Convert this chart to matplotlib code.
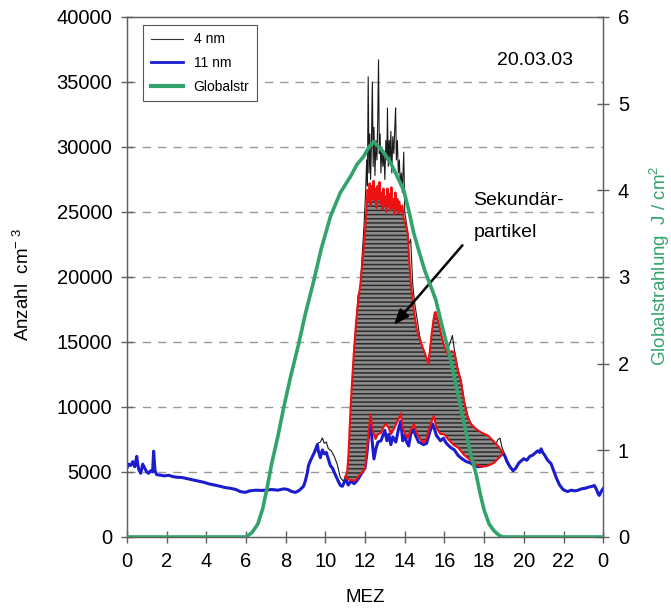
"""
Partikelanzahl 4 nm / 11 nm und Globalstrahlung, 20.03.03
"""
import numpy as np
import matplotlib
matplotlib.use("Agg")
import matplotlib.pyplot as plt
from matplotlib.lines import Line2D

plt.rcParams['font.family'] = ['Liberation Sans', 'DejaVu Sans']
plt.rcParams['hatch.linewidth'] = 1.1

# 11 nm (blau)
t11 = [0.0, 0.1, 0.2, 0.3, 0.4, 0.5, 0.55, 0.6, 0.7, 0.8, 0.9, 1.0, 1.1, 1.2, 1.3, 1.35, 1.42, 1.5,
       1.7, 1.9, 2.1, 2.3, 2.5, 2.8, 3.0, 3.3, 3.6, 3.9, 4.1, 4.4, 4.7, 4.95, 5.2, 5.5, 5.7, 5.96,
       6.2, 6.5, 6.8, 7.0, 7.3, 7.6, 7.9, 8.1, 8.3, 8.5, 8.7, 8.9, 9.0, 9.1, 9.15, 9.25, 9.35, 9.45,
       9.55, 9.6, 9.65, 9.75, 9.85, 9.95, 10.05, 10.15, 10.25, 10.36, 10.5, 10.65, 10.76, 10.86,
       10.95, 11.05, 11.15, 11.3, 11.45, 11.6, 11.75, 11.9, 12.0, 12.1, 12.2, 12.28, 12.35, 12.45,
       12.55, 12.65, 12.8, 12.9, 13.0, 13.1, 13.2, 13.3, 13.4, 13.55, 13.7, 13.8, 13.9, 14.0, 14.1,
       14.2, 14.3, 14.45, 14.55, 14.7, 14.8, 14.95, 15.1, 15.25, 15.4, 15.5, 15.6, 15.8, 15.95,
       16.1, 16.3, 16.5, 16.7, 16.9, 17.1, 17.3, 17.5, 17.7, 17.9, 18.1, 18.3, 18.5, 18.7, 18.85,
       18.95, 19.05, 19.15, 19.3, 19.46, 19.6, 19.75, 19.9, 20.0, 20.15, 20.3, 20.45, 20.6, 20.7,
       20.8, 20.87, 20.95, 21.05, 21.2, 21.37, 21.5, 21.65, 21.8, 21.95, 22.05, 22.2, 22.4, 22.55,
       22.7, 22.9, 23.1, 23.3, 23.45, 23.55, 23.65, 23.75, 23.8, 23.9, 24.0]
n11 = [5300, 5600, 5500, 5800, 5400, 6200, 5600, 5200, 4900, 5600, 5300, 5000, 4900, 5100, 5000, 6600, 5100, 4800,
       4750, 4700, 4750, 4650, 4600, 4570, 4500, 4400, 4300, 4200, 4100, 4000, 3900, 3800, 3750, 3650, 3500, 3430,
       3550, 3600, 3580, 3600, 3650, 3600, 3700, 3660, 3500, 3430, 3600, 3900, 4340, 5000, 5490, 5870, 6200, 6500,
       6900, 7100, 6600, 6100, 6700, 6400, 6500, 6000, 5500, 5300, 4800, 4300, 3960, 3900,
       4200, 4400, 4000, 4300, 4100, 4340, 4700, 5100, 5300, 6500, 8200, 9100, 7500, 6000,
       6800, 7300, 7400, 7800, 8200, 7400, 7900, 7100, 7700, 7300, 8400, 8900, 7400, 7800, 7300,
       7000, 7900, 8300, 7800, 7300, 7240, 7100, 7200, 8000, 8700, 8300, 7800, 7400, 7600,
       7200, 6900, 6700, 6250, 6000, 5800, 5700, 5500, 5400, 5450, 5600, 5700, 5900, 6100, 6300,
       6480, 6200, 5800, 5400, 5100, 5300, 5700, 5900, 6020, 5900, 6200, 6300, 6500, 6630,
       6500, 6780, 6500, 6300, 5900, 5640, 5100, 4500, 4000, 3700, 3580, 3500, 3600, 3550,
       3580, 3700, 3750, 3850, 3900, 3960, 3700, 3300, 3200, 3500, 3730]

# 4 nm (schwarz), nur wo sichtbar
t4 = [9.0, 9.2, 9.4, 9.6, 9.75, 9.85, 9.95, 10.05, 10.15, 10.3, 10.45, 10.6, 10.75, 10.9, 11.05,
      11.15, 11.25, 11.35, 11.45, 11.55, 11.65, 11.75, 11.85, 11.95, 12.03, 12.08, 12.12, 12.16,
      12.2, 12.24, 12.28, 12.32, 12.37, 12.41, 12.45, 12.5, 12.55, 12.6, 12.64, 12.68, 12.72,
      12.76, 12.8, 12.85, 12.9, 12.95, 13.0, 13.05, 13.1, 13.13, 13.17, 13.22, 13.26, 13.3,
      13.35, 13.4, 13.45, 13.5, 13.54, 13.58, 13.63, 13.68, 13.73, 13.78, 13.83, 13.88, 13.95,
      14.0, 14.1, 14.2, 14.3, 14.4, 14.5, 14.6, 14.75, 14.9, 15.05, 15.2, 15.35, 15.5, 15.6,
      15.75, 15.9, 16.05, 16.2, 16.3, 16.4, 16.5, 16.7, 16.85, 17.0, 17.2, 17.4, 17.6, 17.8,
      18.0, 18.2, 18.4, 18.6, 18.7, 18.8, 18.9, 19.0, 19.2, 19.4]
n4 = [4400, 5700, 6400, 7200, 7300, 7620, 7200, 7300, 6800, 6630, 6200, 5600, 4600, 4300, 4700,
      5200, 8500, 11500, 14500, 16500, 18600, 19000, 21500, 24000, 26500, 29000, 27000, 35400,
      28000, 31000, 27500, 30000, 35000, 28500, 31500, 27800, 30500, 29000, 32000, 36700, 29500,
      31000, 28000, 30000, 28500, 29500, 27500, 30500, 29000, 33000, 28500, 30500, 29000, 31200,
      28000, 30800, 29500, 31500, 33000, 29000, 30500, 28000, 29000, 27000, 28000, 26500, 29600,
      25000, 24000, 22500, 22900, 19500, 18000, 17000, 15500, 14500, 13800, 13600, 15500, 17300, 17000,
      16000, 15000, 14500, 14600, 15000, 15500, 14400, 12800, 12000, 10500, 9200, 8500, 8200, 8000,
      7900, 7800, 7400, 7200, 7500, 7600, 6900, 6500, 5800, 5200]

# Sekundärpartikel: obere und untere rote Linie
t_up = [11.0, 11.1, 11.17, 11.27, 11.35, 11.43, 11.55, 11.67, 11.77, 11.87, 11.95, 12.03, 12.08,
        12.13, 12.18, 12.23, 12.28, 12.33, 12.38, 12.43, 12.48, 12.53, 12.58, 12.63, 12.68, 12.73,
        12.78, 12.83, 12.88, 12.93, 12.98, 13.03, 13.08, 13.13, 13.18, 13.23, 13.28, 13.33, 13.38,
        13.43, 13.48, 13.53, 13.58, 13.63, 13.68, 13.73, 13.8, 13.88, 13.95, 14.05, 14.15, 14.22,
        14.3, 14.38, 14.45, 14.6, 14.8, 15.0, 15.2, 15.35, 15.46, 15.56, 15.7, 15.85, 16.0, 16.2,
        16.35, 16.5, 16.65, 16.83, 17.0, 17.15, 17.33, 17.6, 17.9, 18.2, 18.45, 18.7, 18.95]
upper = [4600, 5000, 6400, 9900, 12000, 14000, 16500, 18300, 19500, 21100, 22500, 24150, 25500,
         26700, 25800, 27200, 25500, 27000, 26000, 27400, 25800, 26800, 25300, 27000, 26000, 27300,
         25600, 26500, 25200, 26800, 25500, 26200, 25000, 26800, 25400, 26400, 25100, 26900, 25300,
         26000, 24800, 26500, 25200, 26000, 24900, 25800, 25000, 25500, 24500, 24000, 23400, 21500,
         19600, 18500, 17500, 16000, 15000, 14200, 13300, 15500, 16800, 17300, 16500, 15500, 14600, 14000,
         14300, 14200, 13000, 11960, 10300, 9300, 8700, 8300, 8000, 7800, 7400, 7000, 6480]
t_low = [11.0, 11.2, 11.5, 11.75, 12.0, 12.1, 12.2, 12.28, 12.38, 12.53, 12.65, 12.8, 12.95, 13.05,
         13.2, 13.3, 13.45, 13.6, 13.7, 13.8, 13.9, 14.0, 14.15, 14.3, 14.47, 14.6, 14.8, 14.97,
         15.1, 15.25, 15.38, 15.46, 15.6, 15.8, 16.0, 16.2, 16.45, 16.7, 17.0, 17.33, 17.6, 17.84,
         18.1, 18.3, 18.5, 18.75, 18.95]
lower = [4600, 4400, 4340, 4800, 5260, 6800, 8400, 9450, 8200, 7540, 7900, 8000, 8500, 8700,
         8380, 7900, 8300, 8800, 9100, 9520, 8400, 8000, 7620, 8200, 8680, 8000, 7500, 7240,
         7600, 8400, 9000, 9300, 8400, 7920, 7900, 7500, 7100, 6860, 6300, 5870, 5550, 5410,
         5450, 5550, 5710, 6100, 6480]

# Globalstrahlung (rechte Achse)
t_glob = [0.0, 6.0, 6.3, 6.6, 6.85, 7.07, 7.3, 7.6, 7.9, 8.25, 8.65, 9.0, 9.4, 9.8, 10.26, 10.75,
          11.27, 11.6, 11.93, 12.2, 12.43, 12.7, 13.0, 13.3, 13.6, 13.95, 14.2, 14.45, 14.65, 15.0,
          15.3, 15.56, 15.9, 16.3, 16.65, 17.0, 17.3, 17.6, 17.8, 18.0, 18.25, 18.5, 18.75, 18.94, 24.0]
glob = [0.0, 0.0, 0.05, 0.15, 0.33, 0.57, 0.85, 1.15, 1.49, 1.85, 2.22, 2.58, 2.94, 3.33, 3.7, 3.97,
        4.16, 4.3, 4.39, 4.5, 4.56, 4.5, 4.42, 4.31, 4.17, 4.0, 3.77, 3.51, 3.35, 3.08,
        2.9, 2.74, 2.42, 2.06, 1.68, 1.3, 0.98, 0.72, 0.5, 0.31, 0.15, 0.07, 0.02, 0.0, 0.0]

x_ticks = list(range(0, 25, 2))
x_labels = ["0", "2", "4", "6", "8", "10", "12", "14", "16", "18", "20", "22", "0"]

BLUE = "#1c1ccf"
RED = "#ee1111"
GREEN = "#33a36c"
SPINE = "#606060"


def main():
    fig = plt.figure(figsize=(6.71, 6.08), dpi=100)
    ax = fig.add_axes([0.189, 0.1168, 0.710, 0.8553])

    ax.plot(t4, n4, color="#1a1a1a", lw=0.8, zorder=2)
    ax.plot(t11, n11, color=BLUE, lw=2.2, zorder=3)

    poly_x = np.concatenate([t_up, t_low[::-1]])
    poly_y = np.concatenate([upper, lower[::-1]])
    ax.fill(poly_x, poly_y, facecolor="#8c8c8c", edgecolor="#2c2c2c", lw=0, hatch="----", zorder=4)
    ax.plot(t_up, upper, color=RED, lw=1.5, zorder=5)
    ax.plot(t_low, lower, color=RED, lw=1.5, zorder=5)

    ax.set_xlim(0, 24)
    ax.set_ylim(0, 40000)
    ax.set_xticks(x_ticks)
    ax.set_xticklabels(x_labels)
    ax.set_yticks(range(0, 40001, 5000))
    for yv in range(5000, 40000, 5000):
        ax.axhline(yv, color="#9a9a9a", lw=1.0, ls=(0, (6, 5)), zorder=1)

    ax.tick_params(axis="both", labelsize=14.5, direction="inout", length=9, width=1,
                   color=SPINE, pad=6)
    for sp in ax.spines.values():
        sp.set_color(SPINE)
        sp.set_linewidth(1.0)

    ax2 = ax.twinx()
    ax2.plot(t_glob, glob, color=GREEN, lw=2.6, zorder=6)
    ax2.set_ylim(0, 6)
    ax2.set_yticks(range(0, 7))
    ax2.tick_params(axis="y", labelsize=14.5, direction="inout", length=9, width=1,
                    color=SPINE, pad=6)
    for sp in ax2.spines.values():
        sp.set_color(SPINE)

    ax.text(17.45, 25900, "Sekundär-", fontsize=14, ha="left", va="center", zorder=8)
    ax.text(17.45, 23450, "partikel", fontsize=14, ha="left", va="center", zorder=8)
    ax.annotate("", xy=(13.36, 16150), xytext=(17.0, 22600),
                arrowprops=dict(arrowstyle="-|>,head_length=0.9,head_width=0.35",
                                color="black", lw=1.8), zorder=8)
    ax.text(0.857, 0.917, "20.03.03", transform=ax.transAxes, fontsize=14,
            ha="center", va="center")

    handles = [Line2D([], [], color="#333333", lw=0.8),
               Line2D([], [], color=BLUE, lw=2.0),
               Line2D([], [], color=GREEN, lw=3.0)]
    leg = ax2.legend(handles, ["4 nm", "11 nm", "Globalstr"], loc="upper left",
                     bbox_to_anchor=(0.034, 0.985), borderaxespad=0, fontsize=10,
                     handlelength=2.3, labelspacing=0.7, fancybox=False,
                     framealpha=1, edgecolor="#555555", borderpad=0.55)
    leg.get_frame().set_linewidth(0.8)

    fig.text(365 / 671, 1 - 597 / 608, "MEZ", fontsize=13.5, ha="center", va="center")
    fig.text(23 / 671, 1 - 284 / 608, "Anzahl  cm$^{\\mathregular{-\\ 3}}$", fontsize=13.5,
             rotation=90, ha="center", va="center")
    fig.text(660 / 671, 1 - 266 / 608, "Globalstrahlung  J / cm$^{\\mathregular{2}}$",
             fontsize=13.5, rotation=90, ha="center", va="center", color=GREEN)

    fig.savefig("out.png", dpi=100)
    return


if __name__ == "__main__":
    main()
